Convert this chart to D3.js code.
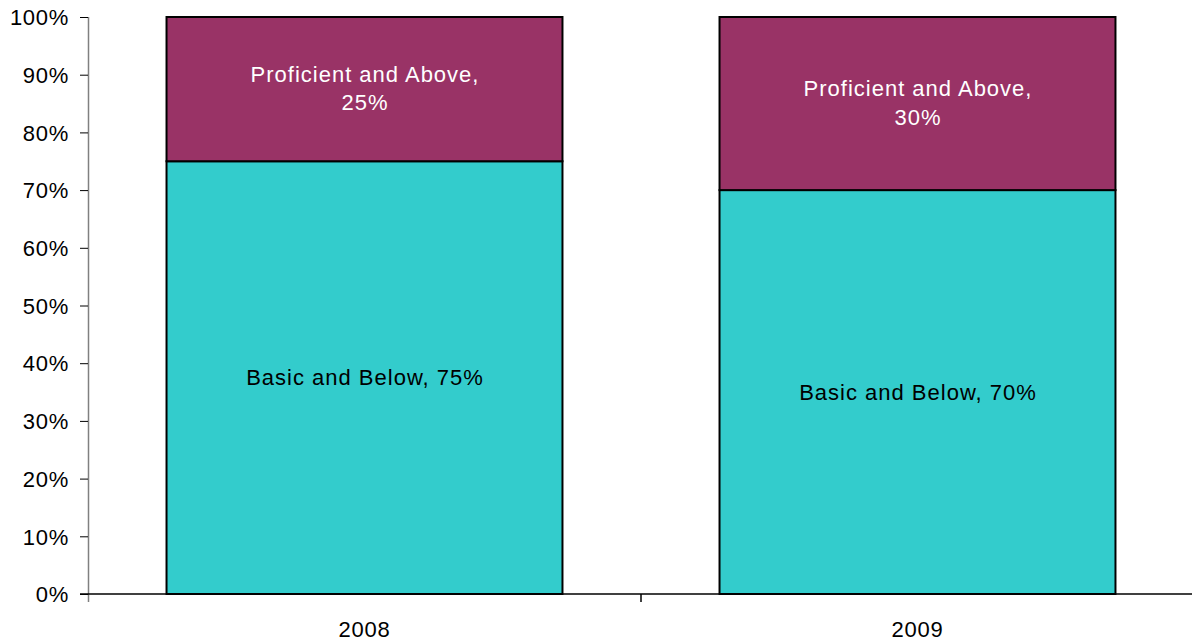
<!DOCTYPE html>
<html>
<head>
<meta charset="utf-8">
<script src="https://cdn.jsdelivr.net/npm/d3@7"></script>
<style>
  html, body { margin: 0; padding: 0; background: #fff; }
  svg { display: block; font-family: "Liberation Sans", Arial, sans-serif; }
</style>
</head>
<body>
<svg id="chart" width="1192" height="641"></svg>
<script>
// Share of students by performance level, per year
const years = ["2008", "2009"];
const basicAndBelow = [75, 70];
const proficientAndAbove = [25, 30];
const seriesNames = ["Basic and Below", "Proficient and Above"];
const seriesColors = ["#33CCCC", "#993366"];
const labelColors = ["#000000", "#FFFFFF"];
const yTicks = [0, 10, 20, 30, 40, 50, 60, 70, 80, 90, 100];

const svg = d3.select("#chart");
const plotLeft = 88, plotRight = 1194, plotTop = 17, plotBottom = 594;
const fontSize = 22;

const x = d3.scaleBand().domain(years).range([plotLeft, plotRight])
  .paddingInner(0.284).paddingOuter(0.142);
const y = d3.scaleLinear().domain([0, 100]).range([plotBottom, plotTop]);

const rows = years.map((yr, i) => ({ year: yr, basic: basicAndBelow[i], prof: proficientAndAbove[i] }));
const stack = d3.stack().keys(["basic", "prof"])(rows);

// bars
stack.forEach((layer, li) => {
  svg.append("g").selectAll("rect").data(layer).join("rect")
    .attr("x", d => x(d.data.year))
    .attr("y", d => y(d[1]))
    .attr("width", x.bandwidth())
    .attr("height", d => y(d[0]) - y(d[1]))
    .attr("fill", seriesColors[li])
    .attr("stroke", "#000")
    .attr("stroke-width", 2);
});

// segment labels
stack.forEach((layer, li) => {
  const g = svg.append("g");
  layer.forEach(d => {
    const cx = x(d.data.year) + x.bandwidth() / 2 + 0.5;
    const cy = (y(d[0]) + y(d[1])) / 2;
    const val = d[1] - d[0];
    const t = g.append("text")
      .attr("x", cx)
      .attr("text-anchor", "middle")
      .attr("font-size", fontSize)
      .attr("letter-spacing", 1)
      .attr("fill", labelColors[li]);
    if (li === 0) {
      t.attr("y", cy + 7.5).text(`${seriesNames[li]}, ${val}%`);
    } else {
      t.append("tspan").attr("x", cx).attr("y", cy - 7.5).text(`${seriesNames[li]},`);
      t.append("tspan").attr("x", cx).attr("y", cy + 21).text(`${val}%`);
    }
  });
});

// y axis
const yAxis = d3.axisLeft(y).tickValues(yTicks).tickFormat(d => d + "%")
  .tickSizeInner(8).tickSizeOuter(0).tickPadding(11);
const gy = svg.append("g").attr("transform", `translate(${plotLeft},0)`).call(yAxis);
gy.select(".domain").attr("stroke", "#808080").attr("stroke-width", 1.5)
  .attr("d", `M0.5,${plotTop}V${plotBottom + 8}`);
gy.selectAll(".tick line").attr("stroke", "#000");
gy.selectAll(".tick text").attr("font-size", fontSize).attr("fill", "#000")
  .attr("letter-spacing", 0.7)
  .attr("font-family", "'Liberation Sans', Arial, sans-serif").attr("dy", "0.35em");

// x axis
const gx = svg.append("g").attr("transform", `translate(0,${plotBottom})`);
gx.append("line").attr("x1", plotLeft - 8).attr("x2", 1192).attr("y1", 0).attr("y2", 0)
  .attr("stroke", "#000").attr("stroke-width", 1.5);
const boundaries = years.slice(1).map(yr => x(yr) - x.step() * x.paddingInner() / 2);
gx.selectAll("line.b").data(boundaries).join("line").attr("class", "b")
  .attr("x1", d => d).attr("x2", d => d).attr("y1", 0).attr("y2", 8)
  .attr("stroke", "#000").attr("stroke-width", 1.5);
gx.selectAll("text").data(years).join("text")
  .attr("x", d => x(d) + x.bandwidth() / 2)
  .attr("y", 42.5)
  .attr("text-anchor", "middle")
  .attr("font-size", fontSize)
  .attr("letter-spacing", 0.8)
  .text(d => d);
</script>
</body>
</html>
